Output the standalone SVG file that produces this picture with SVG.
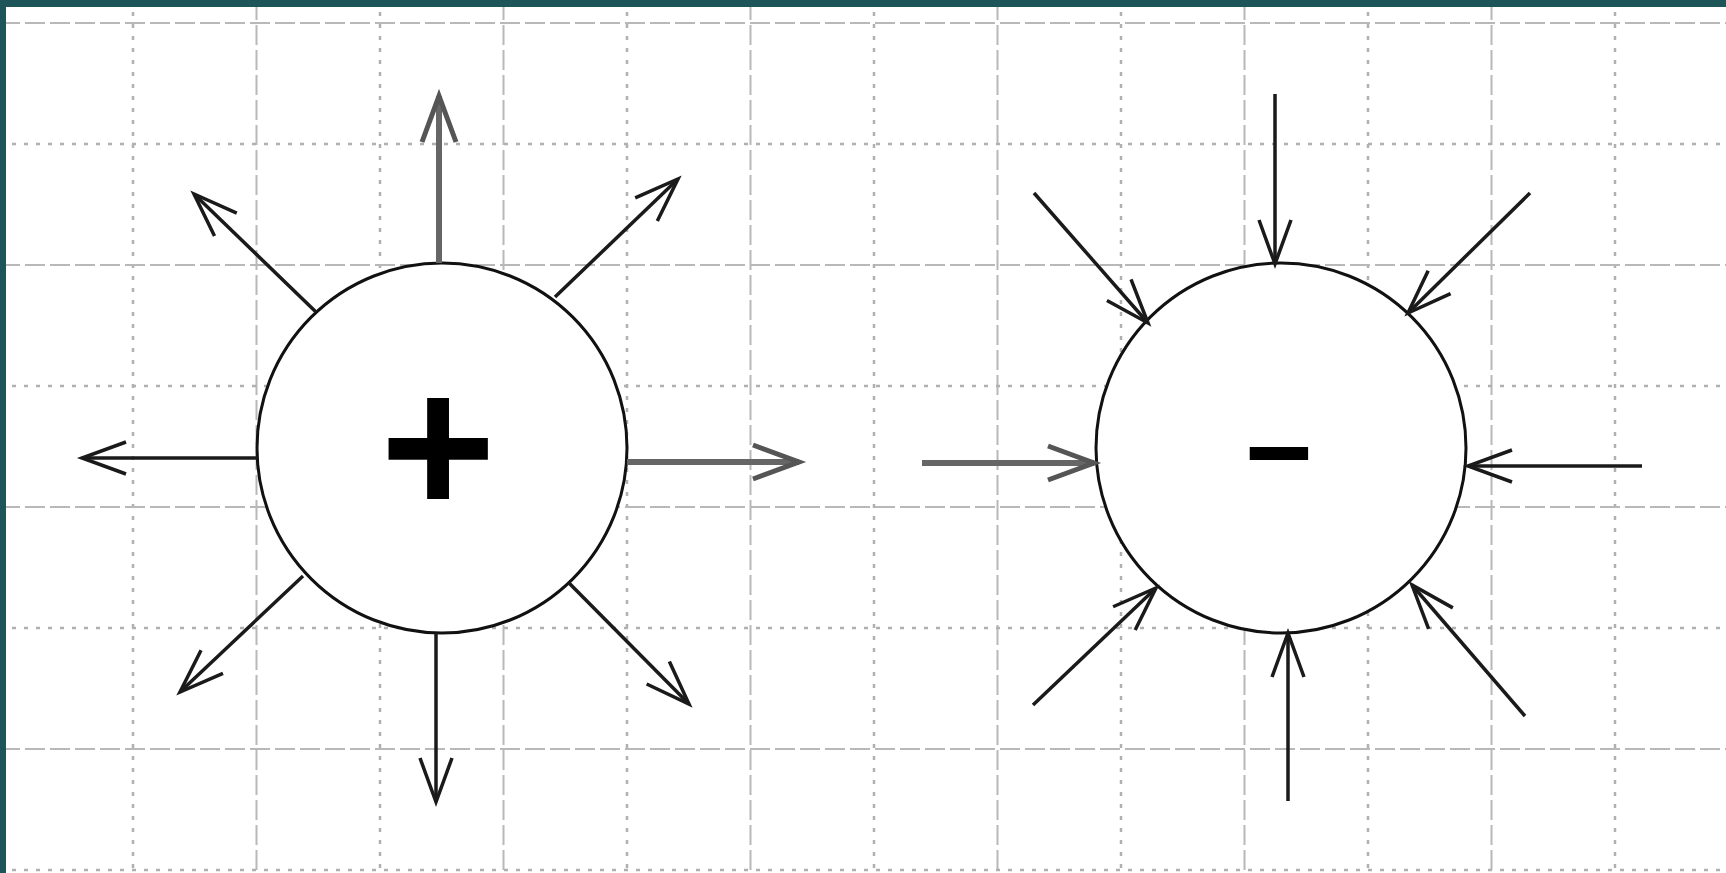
<svg xmlns="http://www.w3.org/2000/svg" width="1726" height="873" viewBox="0 0 1726 873">
<style>
.dash{stroke:#b8b8b8;stroke-width:2;stroke-dasharray:20 5;fill:none}
.dot{stroke:#b0b0b0;stroke-width:2.5;stroke-dasharray:4 8;fill:none}
.node{fill:#ffffff;stroke:#111;stroke-width:3}
.thick{stroke:#666;stroke-width:6;fill:none}
.thin{stroke:#1a1a1a;stroke-width:3.5;fill:none}
.sign{font-family:"Liberation Sans",Arial,sans-serif;font-weight:bold;fill:#000;text-anchor:middle}
</style>
<defs>
<marker id="hg" markerUnits="userSpaceOnUse" viewBox="-50 -22 56 44" markerWidth="56" markerHeight="44" refX="0" refY="0" orient="auto" overflow="visible">
<path d="M-46,-17 L0,0 L-46,17" fill="none" stroke="#555" stroke-width="5" stroke-linejoin="miter"/>
</marker>
<marker id="hb" markerUnits="userSpaceOnUse" viewBox="-50 -22 56 44" markerWidth="56" markerHeight="44" refX="0" refY="0" orient="auto" overflow="visible">
<path d="M-44,-16 L0,0 L-44,16" fill="none" stroke="#1a1a1a" stroke-width="3.5" stroke-linejoin="miter"/>
</marker>
</defs>
<rect width="1726" height="873" fill="#ffffff"/>
<g id="grid">
<line class="dot" x1="133" y1="0" x2="133" y2="873"/>
<line class="dash" x1="256.5" y1="0" x2="256.5" y2="873"/>
<line class="dot" x1="380" y1="0" x2="380" y2="873"/>
<line class="dash" x1="503.5" y1="0" x2="503.5" y2="873"/>
<line class="dot" x1="627" y1="0" x2="627" y2="873"/>
<line class="dash" x1="750.5" y1="0" x2="750.5" y2="873"/>
<line class="dot" x1="874" y1="0" x2="874" y2="873"/>
<line class="dash" x1="997.5" y1="0" x2="997.5" y2="873"/>
<line class="dot" x1="1121" y1="0" x2="1121" y2="873"/>
<line class="dash" x1="1244.5" y1="0" x2="1244.5" y2="873"/>
<line class="dot" x1="1368" y1="0" x2="1368" y2="873"/>
<line class="dash" x1="1491.5" y1="0" x2="1491.5" y2="873"/>
<line class="dot" x1="1615" y1="0" x2="1615" y2="873"/>
<line class="dash" x1="0" y1="23" x2="1726" y2="23"/>
<line class="dot" x1="0" y1="144" x2="1726" y2="144"/>
<line class="dash" x1="0" y1="265" x2="1726" y2="265"/>
<line class="dot" x1="0" y1="386" x2="1726" y2="386"/>
<line class="dash" x1="0" y1="507" x2="1726" y2="507"/>
<line class="dot" x1="0" y1="628" x2="1726" y2="628"/>
<line class="dash" x1="0" y1="749" x2="1726" y2="749"/>
<line class="dot" x1="0" y1="870" x2="1726" y2="870"/>
</g>
<rect x="0" y="0" width="6" height="873" fill="#1d5559"/>
<rect x="0" y="0" width="1726" height="7" fill="#1d5559"/>
<g id="positive">
<circle class="node" cx="442" cy="448" r="185"/>
<text class="sign" x="438" y="515" font-size="198">+</text>
</g>
<g id="negative">
<circle class="node" cx="1281" cy="448" r="185"/>
<text class="sign" transform="translate(1279,443) scale(2.3,1.1)" x="0" y="35" font-size="100">-</text>
</g>
<g id="connectors">
<line class="thick" x1="439" y1="263" x2="439" y2="96" marker-end="url(#hg)"/>
<line class="thin" x1="316" y1="312" x2="194" y2="194" marker-end="url(#hb)"/>
<line class="thin" x1="555" y1="297" x2="678" y2="179" marker-end="url(#hb)"/>
<line class="thin" x1="257" y1="458" x2="82" y2="458" marker-end="url(#hb)"/>
<line class="thick" x1="627" y1="462" x2="799" y2="462" marker-end="url(#hg)"/>
<line class="thin" x1="303" y1="576" x2="180" y2="692" marker-end="url(#hb)"/>
<line class="thin" x1="436" y1="633" x2="436" y2="802" marker-end="url(#hb)"/>
<line class="thin" x1="569" y1="583" x2="689" y2="704" marker-end="url(#hb)"/>
<line class="thin" x1="1275" y1="94" x2="1275" y2="264" marker-end="url(#hb)"/>
<line class="thin" x1="1034" y1="193" x2="1148" y2="323" marker-end="url(#hb)"/>
<line class="thin" x1="1530" y1="193" x2="1408" y2="313" marker-end="url(#hb)"/>
<line class="thick" x1="922" y1="463" x2="1094" y2="463" marker-end="url(#hg)"/>
<line class="thin" x1="1642" y1="466" x2="1468" y2="466" marker-end="url(#hb)"/>
<line class="thin" x1="1033" y1="705" x2="1156" y2="588" marker-end="url(#hb)"/>
<line class="thin" x1="1288" y1="801" x2="1288" y2="633" marker-end="url(#hb)"/>
<line class="thin" x1="1525" y1="716" x2="1412" y2="585" marker-end="url(#hb)"/>
</g>
</svg>
